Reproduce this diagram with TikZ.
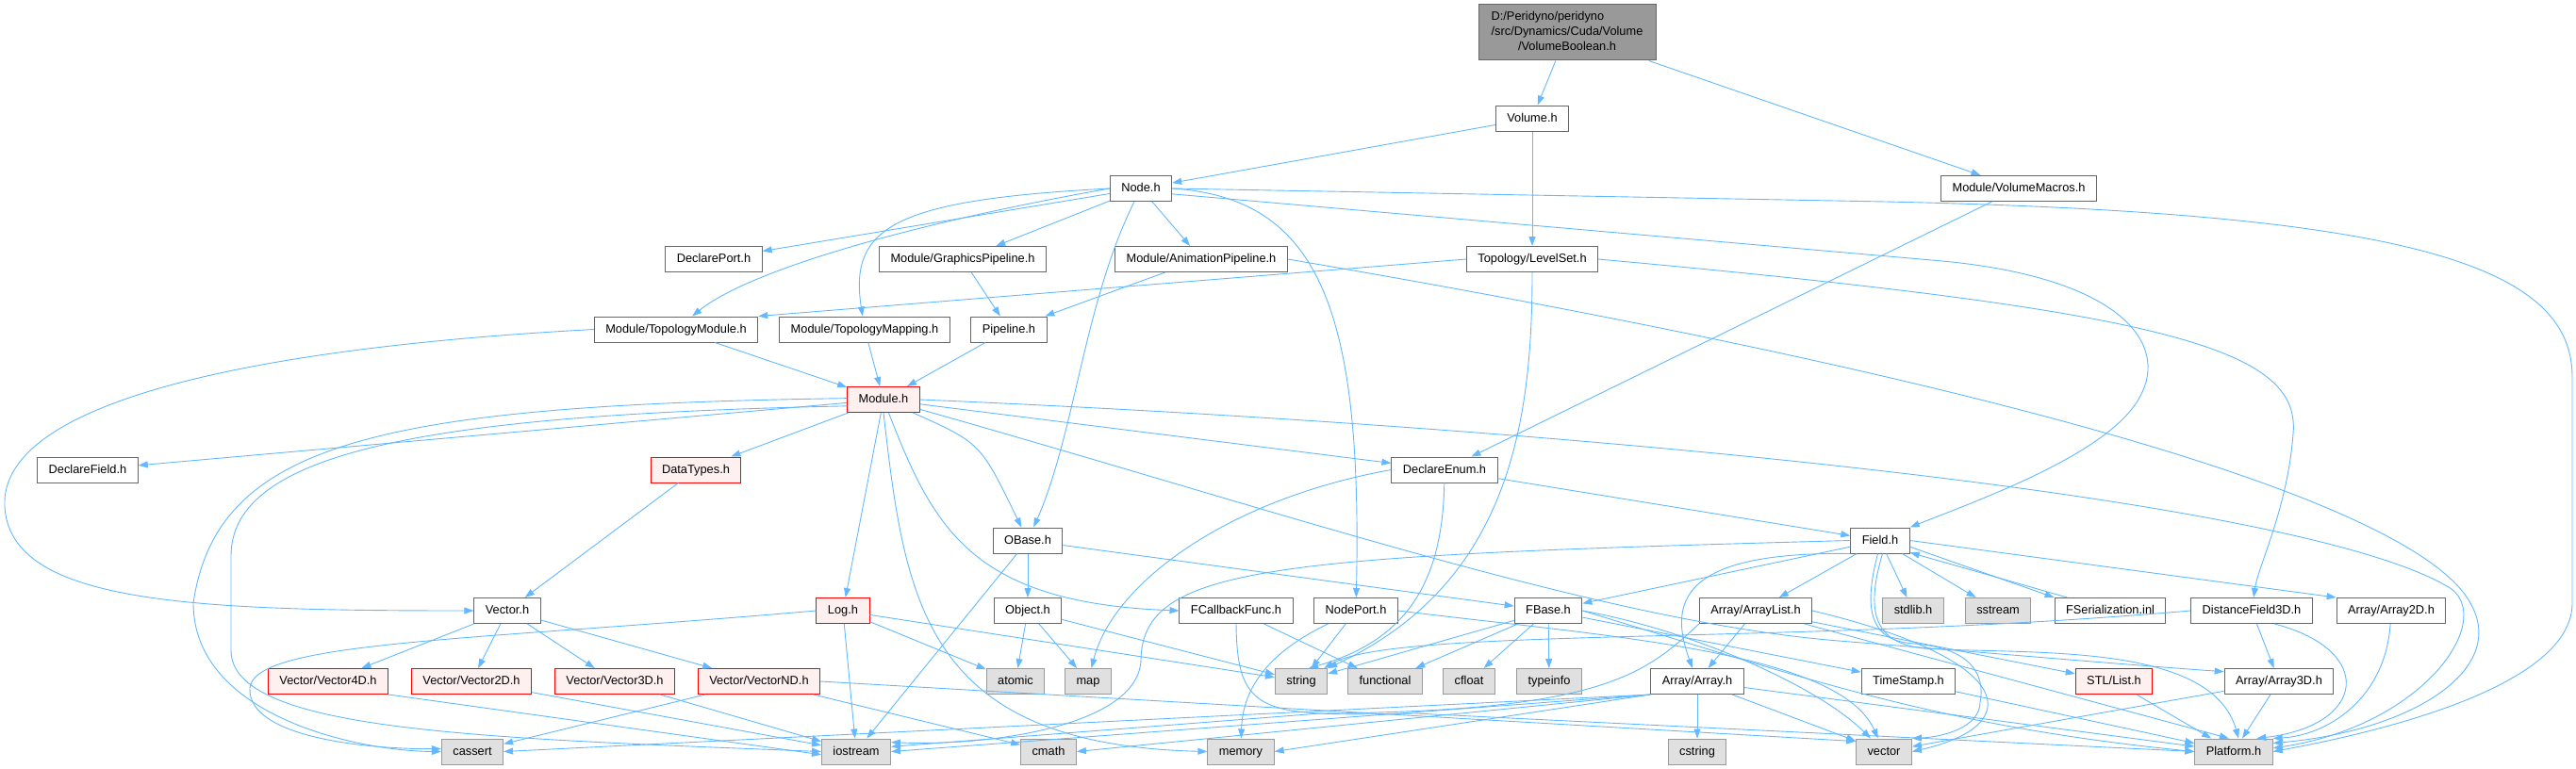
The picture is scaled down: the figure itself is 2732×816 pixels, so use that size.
\documentclass[tikz,border=0pt]{standalone}
\usepackage{fontspec}
\setmainfont{Liberation Sans}
\usetikzlibrary{arrows.meta}
\definecolor{edgeblue}{HTML}{63B8FF}
\definecolor{nodeframe}{HTML}{666666}
\definecolor{sysframe}{HTML}{999999}
\definecolor{sysfill}{HTML}{E0E0E0}
\definecolor{rootfill}{HTML}{999999}
\definecolor{truncfill}{HTML}{FFF0F0}
\tikzset{
  inc node/.style={
    rectangle,
    draw=nodeframe,
    fill=white,
    line width=1pt,
    inner xsep=12pt,
    inner ysep=7.5pt,
    text height=9.5pt,
    text depth=2.5pt,
    font=\fontsize{12.8}{15.7}\selectfont
  },
  sys node/.style={
    inc node,
    draw=sysframe,
    fill=sysfill
  },
  trunc node/.style={
    inc node,
    draw=red,
    fill=truncfill
  },
  root node/.style={
    rectangle,
    draw=nodeframe,
    fill=rootfill,
    line width=1pt,
    minimum width=188pt,
    minimum height=59pt,
    inner sep=0pt,
    font=\fontsize{12.8}{15.7}\selectfont
  },
  dep/.style={
    draw=edgeblue,
    line width=0.9pt,
    -{Triangle[length=10pt,width=7pt]}
  }
}

\begin{document}
\begin{tikzpicture}[x=1pt, y=-1pt]
  \useasboundingbox (0,0) rectangle (2732,816);

  % Documented file and first levels
  \node[root node] (root) at (1662,34.5) {\begin{tabular}{@{}l@{}}D:/Peridyno/peridyno\\/src/Dynamics/Cuda/Volume\\\multicolumn{1}{@{}c@{}}{/VolumeBoolean.h}\end{tabular}};
  \node[inc node] (volume) at (1625,125.5) {Volume.h};
  \node[inc node] (nodeh) at (1210,200) {Node.h};
  \node[inc node] (volmacros) at (2141,200) {Module/VolumeMacros.h};

  % Pipelines
  \node[inc node] (declport) at (757,275) {DeclarePort.h};
  \node[inc node] (gfxpipe) at (1021,275) {Module/GraphicsPipeline.h};
  \node[inc node] (animpipe) at (1274,275) {Module/AnimationPipeline.h};
  \node[inc node] (levelset) at (1625,275) {Topology/LevelSet.h};
  \node[inc node] (topomodule) at (717,349.5) {Module/TopologyModule.h};
  \node[inc node] (topomapping) at (917,349.5) {Module/TopologyMapping.h};
  \node[inc node] (pipeline) at (1070,349.5) {Pipeline.h};

  % Module level
  \node[trunc node] (module) at (937,424) {Module.h};
  \node[inc node] (declfield) at (93,498.5) {DeclareField.h};
  \node[trunc node] (datatypes) at (738,498.5) {DataTypes.h};
  \node[inc node] (declenum) at (1532,498.5) {DeclareEnum.h};
  \node[inc node] (obase) at (1090,573.5) {OBase.h};
  \node[inc node] (field) at (1994,573.5) {Field.h};

  % Headers below the field
  \node[inc node] (vectorh) at (538,648) {Vector.h};
  \node[trunc node] (logh) at (894,648) {Log.h};
  \node[inc node] (object) at (1090,648) {Object.h};
  \node[inc node] (fcallback) at (1311,648) {FCallbackFunc.h};
  \node[inc node] (nodeport) at (1438,648) {NodePort.h};
  \node[inc node] (fbase) at (1642,648) {FBase.h};
  \node[inc node] (arraylist) at (1862,648) {Array/ArrayList.h};
  \node[inc node] (fserial) at (2238,648) {FSerialization.inl};
  \node[inc node] (distfield) at (2388,648) {DistanceField3D.h};
  \node[inc node] (array2d) at (2536,648) {Array/Array2D.h};
  \node[trunc node] (vec4d) at (348,723) {Vector/Vector4D.h};
  \node[trunc node] (vec2d) at (500,723) {Vector/Vector2D.h};
  \node[trunc node] (vec3d) at (652,723) {Vector/Vector3D.h};
  \node[trunc node] (vecnd) at (805,723) {Vector/VectorND.h};
  \node[inc node] (array) at (1800,723) {Array/Array.h};
  \node[inc node] (timestamp) at (2024,723) {TimeStamp.h};
  \node[trunc node] (stllist) at (2242,723) {STL/List.h};
  \node[inc node] (array3d) at (2417,723) {Array/Array3D.h};

  % System headers
  \foreach \n/\px/\py/\txt in {stdlib/2029/648/stdlib.h, sstream/2119/648/sstream,
    atomic/1077/723/atomic, map/1154/723/map, string/1380/723/string,
    functional/1469/723/functional, cfloat/1558/723/cfloat, typeinfo/1643/723/typeinfo,
    cassert/501/797.5/cassert, iostream/908/797.5/iostream, cmath/1112/797.5/cmath,
    memory/1316/797.5/memory, cstring/1800/797.5/cstring, stdvector/1998/797.5/vector,
    platform/2369/797.5/Platform.h}
    \node[sys node] (\n) at (\px,\py) {\txt};

  % Straight includes
  \foreach \from/\to in {root/volume, root/volmacros, volume/nodeh, volume/levelset,
    volmacros/declenum, nodeh/declport, nodeh/gfxpipe, nodeh/animpipe,
    gfxpipe/pipeline, animpipe/pipeline, topomodule/module, topomapping/module,
    pipeline/module, module/declfield, module/datatypes, module/logh, module/declenum,
    datatypes/vectorh, declenum/field, obase/object, obase/iostream, obase/fbase,
    object/atomic, object/map, object/string, logh/iostream, logh/atomic, logh/string,
    vectorh/vec4d, vectorh/vec2d, vectorh/vec3d, vectorh/vecnd, vec2d/iostream,
    vec3d/iostream, vecnd/cassert, vecnd/cmath, fcallback/functional, nodeport/string,
    fbase/string, fbase/functional, fbase/cfloat, fbase/typeinfo, fbase/timestamp,
    field/fbase, field/arraylist, field/stdlib, field/sstream, arraylist/array,
    arraylist/stllist, array/cstring, array/stdvector, array/platform,
    distfield/array3d, array3d/platform, array3d/stdvector, stllist/platform,
    timestamp/platform}
    \draw[dep] (\from) -- (\to);

  % Node.h
  \draw[dep] (nodeh.west) .. controls (950,240) and (790,290) .. (topomodule);
  \draw[dep] (nodeh.west) .. controls (950,212) and (900,240) .. (topomapping);
  \draw[dep] (nodeh) .. controls (1150,320) and (1140,460) .. (obase);
  \draw[dep] (nodeh.east) .. controls (1400,210) and (1445,330) .. (nodeport);
  \draw[dep] (nodeh.-10) -- (2060,277) .. controls (2250,295) and (2300,365) .. (2270,420) .. controls (2240,480) and (2100,530) .. (field.north east);
  \draw[dep] (nodeh.east) -- (2000,214) .. controls (2550,226) and (2728,280) .. (2728,400) -- (2728,640) .. controls (2728,720) and (2560,770) .. (platform.east);

  % Topology and pipelines
  \draw[dep] (levelset.west) -- (topomodule.north east);
  \draw[dep] (levelset) .. controls (1625,450) and (1600,620) .. (string.north east);
  \draw[dep] (levelset.east) .. controls (2300,330) and (2440,370) .. (2432,460) .. controls (2426,540) and (2395,600) .. (distfield);
  \draw[dep] (animpipe.east) .. controls (2100,400) and (2560,530) .. (2620,640) .. controls (2660,710) and (2560,775) .. (platform.12);
  \draw[dep] (topomodule.west) .. controls (250,370) and (0,430) .. (5,537) .. controls (10,640) and (200,648) .. (vectorh.west);

  % Module.h
  \draw[dep] (module.178) .. controls (400,430) and (230,470) .. (205,640) .. controls (205,760) and (380,797) .. (cassert.west);
  \draw[dep] (module.190) .. controls (450,440) and (245,480) .. (245,590) -- (245,690) .. controls (245,775) and (500,783) .. (iostream.west);
  \draw[dep] (module) .. controls (1040,470) .. (obase);
  \draw[dep] (module) .. controls (990,560) and (1030,640) .. (fcallback.west);
  \draw[dep] (module.south) .. controls (960,640) and (980,790) .. (memory.west);
  \draw[dep] (module.-15) .. controls (1350,540) and (1700,660) .. (1950,680) .. controls (2100,692) and (2250,705) .. (array3d.170);
  \draw[dep] (module.east) .. controls (1700,455) and (2450,530) .. (2600,625) .. controls (2645,660) and (2570,770) .. (platform.5);

  % DeclareEnum.h and Log.h
  \draw[dep] (declenum.west) .. controls (1300,530) and (1180,620) .. (map);
  \draw[dep] (declenum) .. controls (1530,620) and (1490,680) .. (string.60);
  \draw[dep] (logh.west) .. controls (500,680) and (270,680) .. (265,730) .. controls (262,785) and (400,795) .. (cassert.175);
  \draw[dep] (vec4d.south east) -- (iostream.185);
  \draw[dep] (vecnd.east) -- (stdvector.160);

  % Field.h
  \draw[dep] (field.south west) .. controls (1780,585) and (1770,640) .. (array);
  \draw[dep] (field.west) .. controls (1350,590) and (1212,600) .. (1210,700) .. controls (1208,770) and (1050,792) .. (iostream.15);
  \draw[dep] (field.260) .. controls (1975,650) and (1985,680) .. (2030,683) .. controls (2095,688) and (2105,720) .. (2100,745) .. controls (2100,772) and (2060,782) .. (stdvector.north east);
  \draw[dep] (field.280) .. controls (1978,650) and (1988,682) .. (2040,688) .. controls (2150,695) and (2345,680) .. (platform.70);
  \draw[dep] (field.-12) -- (fserial.north west);
  \draw[dep] ([xshift=14pt]fserial.north west) -- (field.-22);
  \draw[dep] (field.east) -- (array2d.north west);

  % Arrays, FBase, ports
  \draw[dep] (arraylist.south west) .. controls (1745,715) and (1700,755) .. (1400,757) -- (iostream.8);
  \draw[dep] (arraylist.east) .. controls (2140,700) and (2150,770) .. (stdvector.east);
  \draw[dep] (arraylist) -- (platform.110);
  \draw[dep] (array.south west) -- (cassert.east);
  \draw[dep] (array.south west) -- (iostream.east);
  \draw[dep] (array.south west) -- (cmath.east);
  \draw[dep] (array.south west) -- (memory.east);
  \draw[dep] (fbase.east) .. controls (1800,670) and (1930,730) .. (stdvector);
  \draw[dep] (fbase.east) .. controls (1900,715) and (2050,770) .. (platform.west);
  \draw[dep] (nodeport.east) .. controls (1700,675) and (1950,690) .. (stdvector);
  \draw[dep] (nodeport) .. controls (1360,685) and (1318,720) .. (memory);
  \draw[dep] (fcallback.south) .. controls (1312,760) and (1340,760) .. (1500,757) -- (platform.west);

  % DistanceField3D.h and Array2D.h
  \draw[dep] (distfield.west) .. controls (1900,685) and (1480,665) .. (string.30);
  \draw[dep] (distfield.-30) .. controls (2520,690) and (2510,770) .. (platform.30);
  \draw[dep] (array2d) .. controls (2530,740) and (2470,780) .. (platform.north east);

\end{tikzpicture}
\end{document}
